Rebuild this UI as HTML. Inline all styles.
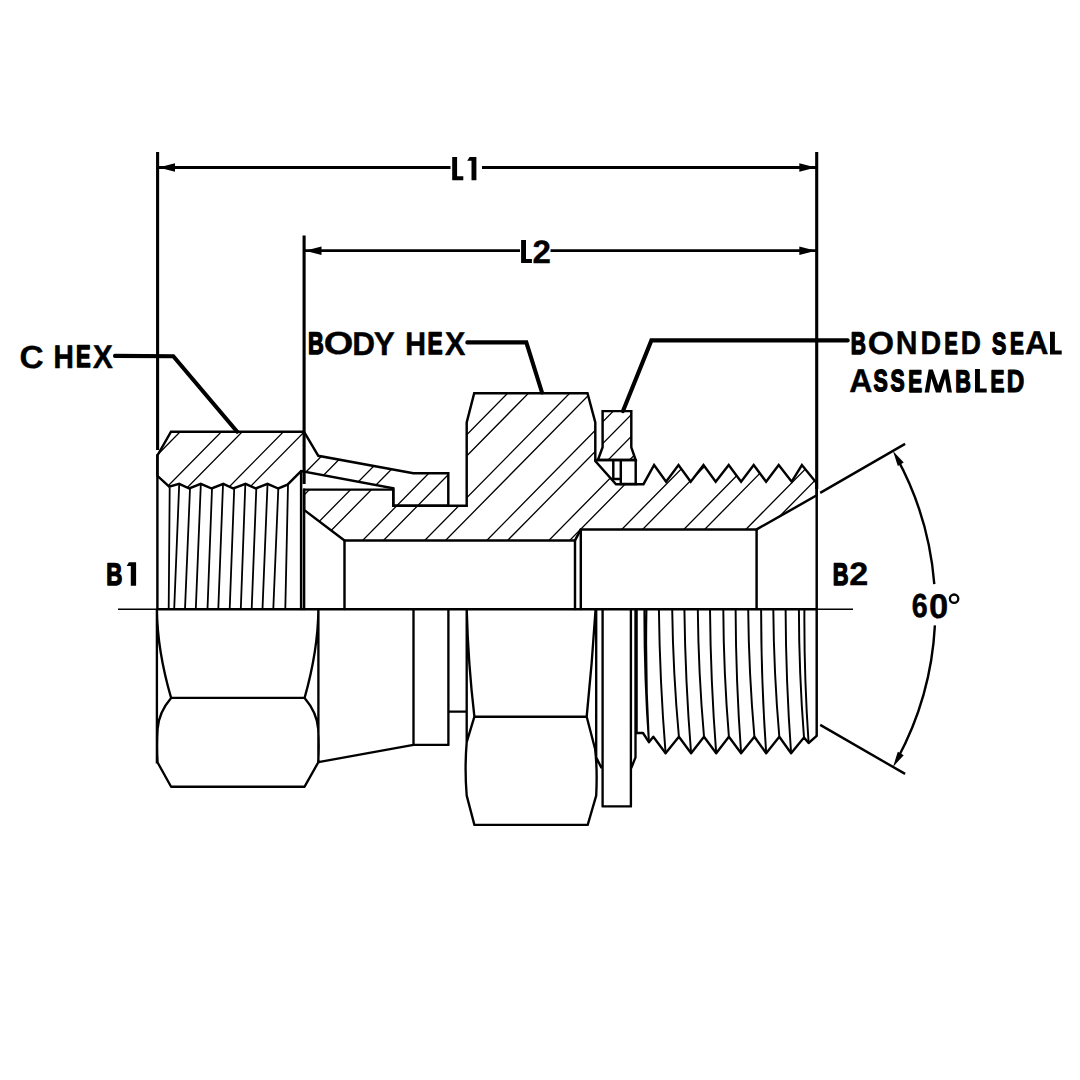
<!DOCTYPE html>
<html><head><meta charset="utf-8"><style>
html,body{margin:0;padding:0;background:#fff;}
svg{display:block;}
</style></head><body>
<svg width="1080" height="1080" viewBox="0 0 1080 1080">
<rect width="1080" height="1080" fill="#fff"/>
<defs><clipPath id="hc">
<path d="M171.0,431.7 L304.0,431.7 L318.3,455.8 L413.3,473.3 L448.3,473.3 L448.3,505.8 L393.3,505.8 L393.3,488.3 L301.1,471.1 L287.5,484.7 L278.3,488.5 L267.5,483.8 L255.8,488.5 L245.5,483.8 L233.3,488.5 L223.3,483.8 L211.7,488.5 L200.8,483.8 L189.2,488.5 L179.2,483.8 L169.2,486.7 L157.4,475.8 L157.4,455.5 Z"/>
<path d="M304.1,489.6 L393.3,489.6 L393.3,505.8 L466.7,505.8 L466.7,422.5 L474.2,393.3 L587.5,393.3 L595.3,422.5 L595.3,461.0 L616.0,484.2 L643.5,484.2 L654.1,465.0 L666.1,481.7 L678.5,465.0 L690.7,481.7 L703.5,465.0 L715.7,481.7 L728.7,465.0 L741.1,481.7 L753.7,465.0 L766.1,481.7 L778.7,465.0 L791.7,481.7 L801.9,465.0 L815.5,481.7 L816.7,482.0 L816.7,495.4 L756.6,529.4 L580.8,529.4 L575.0,540.4 L344.5,540.4 L304.1,510.0 Z"/>
</clipPath><clipPath id="hs">
<path d="M602.6,411.1 L631.3,411.1 L631.3,447.3 L635.7,460.0 L597.9,460.0 L602.6,447.3 Z"/>
</clipPath></defs>
<g clip-path="url(#hc)" stroke="#000" stroke-width="1.3" fill="none"><path d="M140,388.40 L840,-322.10 M140,451.40 L840,-259.10 M140,514.40 L840,-196.10 M140,577.40 L840,-133.10 M140,640.40 L840,-70.10 M140,703.40 L840,-7.10 M140,766.40 L840,55.90 M140,829.40 L840,118.90 M140,892.40 L840,181.90 M140,955.40 L840,244.90 M140,1018.40 L840,307.90 M140,1081.40 L840,370.90 M140,1144.40 L840,433.90 M140,1207.40 L840,496.90 M140,1270.40 L840,559.90 M140,409.55 L840,-300.95 M140,472.55 L840,-237.95 M140,535.55 L840,-174.95 M140,598.55 L840,-111.95 M140,661.55 L840,-48.95 M140,724.55 L840,14.05 M140,787.55 L840,77.05 M140,850.55 L840,140.05 M140,913.55 L840,203.05 M140,976.55 L840,266.05 M140,1039.55 L840,329.05 M140,1102.55 L840,392.05 M140,1165.55 L840,455.05 M140,1228.55 L840,518.05"/></g>
<g clip-path="url(#hs)" stroke="#000" stroke-width="1.3" fill="none"><path d="M590,369.35 L645,313.52 M590,391.15 L645,335.32 M590,412.95 L645,357.12 M590,434.75 L645,378.92 M590,456.55 L645,400.72 M590,478.35 L645,422.52 M590,500.15 L645,444.33 M590,521.95 L645,466.12 M590,543.75 L645,487.92 M590,565.55 L645,509.72 M590,587.35 L645,531.52"/></g>
<g stroke="#000" stroke-width="2.45" fill="none" stroke-linejoin="miter" stroke-linecap="round">
<path d="M171.0,431.7 L304.0,431.7 L318.3,455.8 L413.3,473.3 L448.3,473.3 L448.3,505.8 L393.3,505.8 L393.3,488.3 L301.1,471.1 L287.5,484.7 L278.3,488.5 L267.5,483.8 L255.8,488.5 L245.5,483.8 L233.3,488.5 L223.3,483.8 L211.7,488.5 L200.8,483.8 L189.2,488.5 L179.2,483.8 L169.2,486.7 L157.4,475.8 L157.4,455.5 Z"/>
<path d="M304.1,489.6 L393.3,489.6 L393.3,505.8 L466.7,505.8 L466.7,422.5 L474.2,393.3 L587.5,393.3 L595.3,422.5 L595.3,461.0 L616.0,484.2 L643.5,484.2 L654.1,465.0 L666.1,481.7 L678.5,465.0 L690.7,481.7 L703.5,465.0 L715.7,481.7 L728.7,465.0 L741.1,481.7 L753.7,465.0 L766.1,481.7 L778.7,465.0 L791.7,481.7 L801.9,465.0 L815.5,481.7 L816.7,482.0 L816.7,495.4 L756.6,529.4 L580.8,529.4 L575.0,540.4 L344.5,540.4 L304.1,510.0 Z"/>
<path d="M602.6,411.1 L631.3,411.1 L631.3,447.3 L635.7,460.0 L597.9,460.0 L602.6,447.3 Z"/>
<path d="M595.3,460 L635.7,460 M620.8,460 L620.8,484 L635.7,484 L635.7,460 M613.3,460 L613.3,479 L620.8,479"/>
<path d="M301.1,471.1 L301.1,609 M304.1,489.6 L304.1,609 M344.5,540.4 L344.5,609 M575,540.4 L575,609 M580.8,529.4 L580.8,609 M756.6,529.4 L756.6,609 M816.7,482 L816.7,735.8"/>
<path d="M157.4,455 L157.4,609"/>
</g>
<path d="M169.7,487.5 L168.7,609 M179.2,484.4 L174.2,609 M190,488.7 L185,609 M200.8,484.6 L195.8,609 M212,488.7 L207.5,609 M223,484.6 L218.3,609 M234.2,488.7 L229.7,609 M245.3,484.6 L240.8,609 M256.3,488.7 L251.7,609 M267.5,484.6 L262.5,609 M278.3,488.7 L273.3,609 M288,485 L285.3,609" stroke="#000" stroke-width="1.8" fill="none"/>
<path d="M156.9,609 L156.9,763.5 M318.4,609 L318.4,763.5 M156.9,609 Q157.2,650 171.1,697.9 L304.6,697.9 Q318.1,650 318.4,609 M171.1,697.9 C165,705 158.5,716 157.6,729 Q156.6,746 157.6,762.5 L171.1,786.7 L304.6,786.7 L318.2,762.5 Q319.2,746 318.2,729 C317.3,716 310.7,705 304.6,697.9 M318.4,762.2 L413.5,744.9 M413.5,609 L413.5,744.9 L448.4,744.9 L448.4,609 M448.4,711.6 L466.7,711.6 M466.7,609 L466.7,742.2 Q464.5,769 466.7,795.6 L474.4,824.9 L587.7,824.9 L596.2,795.7 Q597.5,769 595.1,749 L586.7,716.7 M466.7,609 Q468.1,663 474.4,716.7 L586.7,716.7 Q592.2,663 595.6,609 M474.4,716.7 L466.7,742.2 M596.2,609 L596.2,757.4 L601.5,768 M635.5,609 L635.5,757.4 L631.3,768 M602.6,609 L602.6,806.4 L630.9,806.4 L630.9,609 M636.6,609 L636.6,733 L643,733 L648.9,742.2 L653.3,736.7 L665.6,753.3 L678.9,736.7 L691.1,753.3 L704,736.7 L716.2,753.3 L728.9,736.7 L741.1,753.3 L754.4,736.7 L766.2,753.3 L779.3,736.7 L791.1,753.3 L804,737.5 L808.6,743 L816.7,735.8" stroke="#000" stroke-width="2.35" fill="none" stroke-linejoin="round"/>
<path d="M644.4,609 Q644.15,675.6 648.9,742.2 M646.5,609 Q645.20,675.6 648.9,742.2 M658.9,609 Q659.75,681.1 665.6,753.3 M672.2,609 Q673.05,672.9 678.9,736.7 M684.4,609 Q685.25,681.1 691.1,753.3 M697.8,609 Q698.40,672.9 704,736.7 M710,609 Q710.60,681.1 716.2,753.3 M723.3,609 Q723.60,672.9 728.9,736.7 M735.6,609 Q735.85,681.1 741.1,753.3 M748.2,609 Q748.80,672.9 754.4,736.7 M761.1,609 Q761.15,681.1 766.2,753.3 M773.3,609 Q773.80,672.9 779.3,736.7 M785.6,609 Q785.85,681.1 791.1,753.3 M798.9,609 Q798.95,673.2 804,737.5 M804.4,609 Q804.00,676.0 808.6,743" stroke="#000" stroke-width="1.95" fill="none"/>
<path d="M118,609.2 L853,609.2" stroke="#000" stroke-width="1.6"/>
<path d="M157,609.2 L816.7,609.2" stroke="#000" stroke-width="2.4"/>
<path d="M157.6,167.5 L450.5,167.5 M482,167.5 L816.7,167.5 M304.1,250.7 L520,250.7 M550.5,250.7 L816.7,250.7" stroke="#000" stroke-width="2.8" fill="none"/>
<path d="M157.6,152 L157.6,450 M816.7,152 L816.7,489 M304.1,235.4 L304.1,484" stroke="#000" stroke-width="3.1" fill="none"/>
<path d="M158.5,167.5 L175.0,163.3 L175.0,171.7 Z" fill="#000"/>
<path d="M815.8,167.5 L799.3,171.7 L799.3,163.3 Z" fill="#000"/>
<path d="M305.0,250.7 L321.5,246.5 L321.5,254.9 Z" fill="#000"/>
<path d="M815.8,250.7 L799.3,254.9 L799.3,246.5 Z" fill="#000"/>
<path d="M115,355.9 L173.3,356.2 L237.2,431.7 M467.3,342.4 L526.3,342.4 L542,392.5 M847.7,340.4 L651.4,340.4 L623,411.1" stroke="#000" stroke-width="4.1" fill="none" stroke-linejoin="miter" stroke-linecap="round"/>
<path d="M820.2,492.9 L905.1,443.9 M820.2,724.9 L905.1,773.9 M897.0,458.1 A316.0,316.0 0 0 1 934.3,584.1 M934.9,625.4 A316.0,316.0 0 0 1 897.0,759.7" stroke="#000" stroke-width="2.4" fill="none"/>
<path d="M893.0,450.9 L903.7,462.6 L897.8,466.0 Z" fill="#000"/>
<path d="M893.0,766.9 L897.8,751.8 L903.7,755.2 Z" fill="#000"/>
<path d="M452.2,157.1 H457.10 V176.20 H463.3 V180.2 H452.2 Z M521.1,240.0 H526.00 V259.00 H531.9 V263.0 H521.1 Z M1050.0,331.7 H1054.90 V350.60 H1061.7 V354.6 H1050.0 Z M975.0,369.0 H979.90 V388.40 H986.7 V392.4 H975.0 Z " fill="#000"/>
<path d="M924.6,392.5 L928.7,369.6 L932.8,369.6 L938.3,385.5 L943.7,369.6 L948.1,369.6 L951.9,392.5 L947.4,392.5 L945.1,378.2 L940.7,392.5 L935.9,392.5 L931.4,378.2 L929.1,392.5 Z" fill="#000"/>
<circle cx="954.1" cy="598.7" r="4.2" fill="none" stroke="#000" stroke-width="2.3"/>
<path d="M467.2,160.8 L469.6,157.1 L476.4,157.1 L476.4,180.2 L471.5,180.2 L471.5,160.8 Z M126.7,565.9 L128.9,562.3 L136.1,562.3 L136.1,585.8 L130.8,585.8 L130.8,565.9 Z" fill="#000"/>
<g font-family="Liberation Sans, sans-serif" font-weight="bold" fill="#000" stroke="#000" stroke-linejoin="round" text-rendering="geometricPrecision"><text x="911.82" y="617.40" font-size="33.41" textLength="15.94" lengthAdjust="spacingAndGlyphs" stroke-width="0.54">6</text><text x="928.91" y="617.69" font-size="34.25" textLength="19.24" lengthAdjust="spacingAndGlyphs" stroke-width="0.35">0</text><text x="532.53" y="262.82" font-size="32.44" textLength="18.42" lengthAdjust="spacingAndGlyphs" stroke-width="0.35">2</text><text x="19.40" y="367.51" font-size="31.99" textLength="24.13" lengthAdjust="spacingAndGlyphs" stroke-width="0.35">C</text><text x="53.42" y="367.69" font-size="32.54" textLength="20.38" lengthAdjust="spacingAndGlyphs" stroke-width="0.61">H</text><text x="76.01" y="367.22" font-size="31.17" textLength="14.68" lengthAdjust="spacingAndGlyphs" stroke-width="1.56">E</text><text x="92.71" y="367.82" font-size="32.92" textLength="20.18" lengthAdjust="spacingAndGlyphs" stroke-width="0.35">X</text><text x="308.03" y="354.11" font-size="31.13" textLength="15.77" lengthAdjust="spacingAndGlyphs" stroke-width="1.58">B</text><text x="323.81" y="354.41" font-size="31.99" textLength="29.61" lengthAdjust="spacingAndGlyphs" stroke-width="0.35">O</text><text x="352.36" y="354.72" font-size="32.92" textLength="22.79" lengthAdjust="spacingAndGlyphs" stroke-width="0.35">D</text><text x="373.63" y="354.72" font-size="32.92" textLength="21.10" lengthAdjust="spacingAndGlyphs" stroke-width="0.35">Y</text><text x="405.35" y="354.63" font-size="32.64" textLength="20.71" lengthAdjust="spacingAndGlyphs" stroke-width="0.54">H</text><text x="427.50" y="354.18" font-size="31.33" textLength="15.17" lengthAdjust="spacingAndGlyphs" stroke-width="1.44">E</text><text x="444.70" y="354.72" font-size="32.92" textLength="20.70" lengthAdjust="spacingAndGlyphs" stroke-width="0.35">X</text><text x="850.80" y="353.80" font-size="31.11" textLength="15.16" lengthAdjust="spacingAndGlyphs" stroke-width="1.60">B</text><text x="867.78" y="354.11" font-size="31.99" textLength="26.36" lengthAdjust="spacingAndGlyphs" stroke-width="0.35">O</text><text x="895.86" y="354.43" font-size="32.92" textLength="21.80" lengthAdjust="spacingAndGlyphs" stroke-width="0.35">N</text><text x="920.56" y="354.32" font-size="32.63" textLength="20.67" lengthAdjust="spacingAndGlyphs" stroke-width="0.55">D</text><text x="944.56" y="353.80" font-size="31.11" textLength="13.32" lengthAdjust="spacingAndGlyphs" stroke-width="1.60">E</text><text x="960.65" y="354.28" font-size="32.49" textLength="20.20" lengthAdjust="spacingAndGlyphs" stroke-width="0.65">D</text><text x="991.88" y="353.50" font-size="30.23" textLength="14.25" lengthAdjust="spacingAndGlyphs" stroke-width="1.60">S</text><text x="1010.00" y="353.80" font-size="31.11" textLength="13.91" lengthAdjust="spacingAndGlyphs" stroke-width="1.60">E</text><text x="1024.96" y="354.43" font-size="32.92" textLength="23.52" lengthAdjust="spacingAndGlyphs" stroke-width="0.35">A</text><text x="849.18" y="392.22" font-size="32.92" textLength="23.09" lengthAdjust="spacingAndGlyphs" stroke-width="0.35">A</text><text x="873.38" y="391.30" font-size="30.23" textLength="14.25" lengthAdjust="spacingAndGlyphs" stroke-width="1.60">S</text><text x="890.49" y="391.30" font-size="30.23" textLength="14.14" lengthAdjust="spacingAndGlyphs" stroke-width="1.60">S</text><text x="908.30" y="391.60" font-size="31.11" textLength="13.91" lengthAdjust="spacingAndGlyphs" stroke-width="1.60">E</text><text x="955.15" y="391.60" font-size="31.11" textLength="15.63" lengthAdjust="spacingAndGlyphs" stroke-width="1.60">B</text><text x="990.50" y="391.60" font-size="31.11" textLength="13.91" lengthAdjust="spacingAndGlyphs" stroke-width="1.60">E</text><text x="1006.78" y="391.80" font-size="31.67" textLength="17.53" lengthAdjust="spacingAndGlyphs" stroke-width="1.21">D</text><text x="106.17" y="585.04" font-size="31.23" textLength="16.09" lengthAdjust="spacingAndGlyphs" stroke-width="1.51">B</text><text x="832.73" y="584.71" font-size="31.13" textLength="15.77" lengthAdjust="spacingAndGlyphs" stroke-width="1.58">B</text><text x="849.29" y="585.33" font-size="32.44" textLength="19.00" lengthAdjust="spacingAndGlyphs" stroke-width="0.35">2</text></g>
</svg>
</body></html>
